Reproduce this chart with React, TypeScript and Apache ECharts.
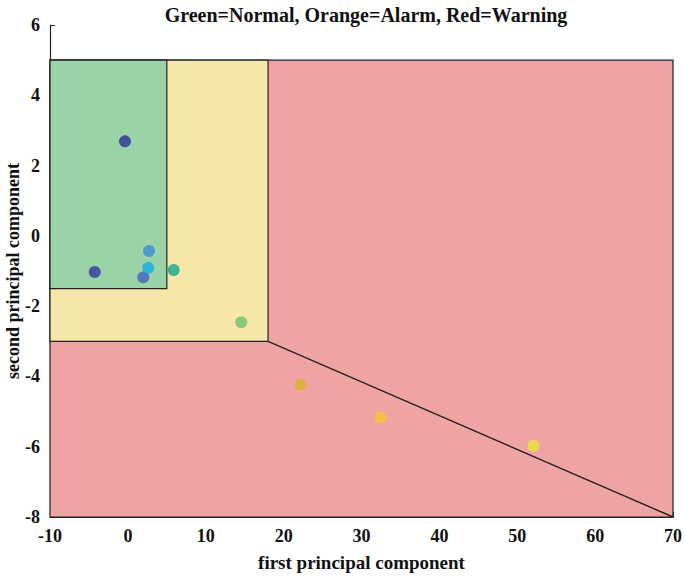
import React, { useEffect, useRef } from "react";
import * as echarts from "echarts";

const xValues = [-0.37, -4.26, 1.98, 2.71, 2.62, 5.88, 14.56, 22.18, 32.45, 52.09];
const yValues = [2.69, -1.03, -1.18, -0.43, -0.91, -0.97, -2.46, -4.24, -5.17, -5.97];
const pointColors = ["#2D2F94", "#2F3A9E", "#4160C0", "#3A8CD8", "#14AEE2", "#12A88E", "#6CC46E", "#D4B52C", "#F7C52E", "#E6E633"];

// regions: [xMin, yMin, xMax, yMax]
const redZone = [-10, -8, 70, 5];
const orangeZone = [-10, -3, 18, 5];
const greenZone = [-10, -1.5, 5, 5];
const boundaryX = [18, 70];
const boundaryY = [-3, -8];

const xTicks = [-10, 70, 10];
const yTicks = [-8, 6, 2];

const font = "'Liberation Serif', 'Times New Roman', serif";

export default function App() {
  const ref = useRef<HTMLDivElement>(null);
  useEffect(() => {
    const chart = echarts.init(ref.current!, null, { renderer: "svg" });
    const zone = (z: number[], color: string) => [
      { coord: [z[0], z[1]], itemStyle: { color, borderColor: "#222", borderWidth: 1.2 } },
      { coord: [z[2], z[3]] },
    ];
    chart.setOption({
      animation: false,
      title: {
        text: "Green=Normal, Orange=Alarm, Red=Warning",
        left: 361,
        textAlign: "center",
        top: 0,
        textStyle: { fontFamily: font, fontWeight: "bold", fontSize: 20, color: "#111" },
      },
      grid: { left: 50, right: 12, top: 25, bottom: 60, containLabel: false, outerBoundsMode: "none" },
      xAxis: {
        type: "value",
        min: xTicks[0],
        max: xTicks[1],
        interval: xTicks[2],
        name: "first principal component",
        nameLocation: "middle",
        nameGap: 36,
        nameMoveOverlap: false,
        nameTextStyle: { fontFamily: font, fontWeight: "bold", fontSize: 19, color: "#111" },
        axisLine: { onZero: false, lineStyle: { color: "#222", width: 1.2 } },
        axisTick: { inside: true, length: 5, lineStyle: { color: "#222" } },
        axisLabel: { fontFamily: font, fontWeight: "bold", fontSize: 18, color: "#111", margin: 10 },
        splitLine: { show: false },
      },
      yAxis: {
        type: "value",
        min: yTicks[0],
        max: yTicks[1],
        interval: yTicks[2],
        name: "second principal component",
        nameLocation: "middle",
        nameGap: 28,
        nameMoveOverlap: false,
        nameTextStyle: { fontFamily: font, fontWeight: "bold", fontSize: 18, color: "#111" },
        axisLine: { onZero: false, lineStyle: { color: "#222", width: 1.2 } },
        axisTick: { inside: true, length: 5, lineStyle: { color: "#222" } },
        axisLabel: { fontFamily: font, fontWeight: "bold", fontSize: 18, color: "#111", margin: 10 },
        splitLine: { show: false },
      },
      series: [
        {
          type: "line",
          data: boundaryX.map((x, i) => [x, boundaryY[i]]),
          symbol: "none",
          lineStyle: { color: "#222", width: 1.4 },
          z: 3,
          markArea: {
            silent: true,
            data: [zone(redZone, "#F0A3A3"), zone(orangeZone, "#F6E7A8"), zone(greenZone, "#9AD3A8")],
          },
        },
        {
          type: "scatter",
          symbolSize: 12,
          z: 5,
          data: xValues.map((x, i) => ({ value: [x, yValues[i]], itemStyle: { color: pointColors[i] } })),
        },
      ],
    });
    return () => chart.dispose();
  }, []);
  return <div ref={ref} style={{ width: 685, height: 577, position: "absolute", left: 0, top: 0 }} />;
}
